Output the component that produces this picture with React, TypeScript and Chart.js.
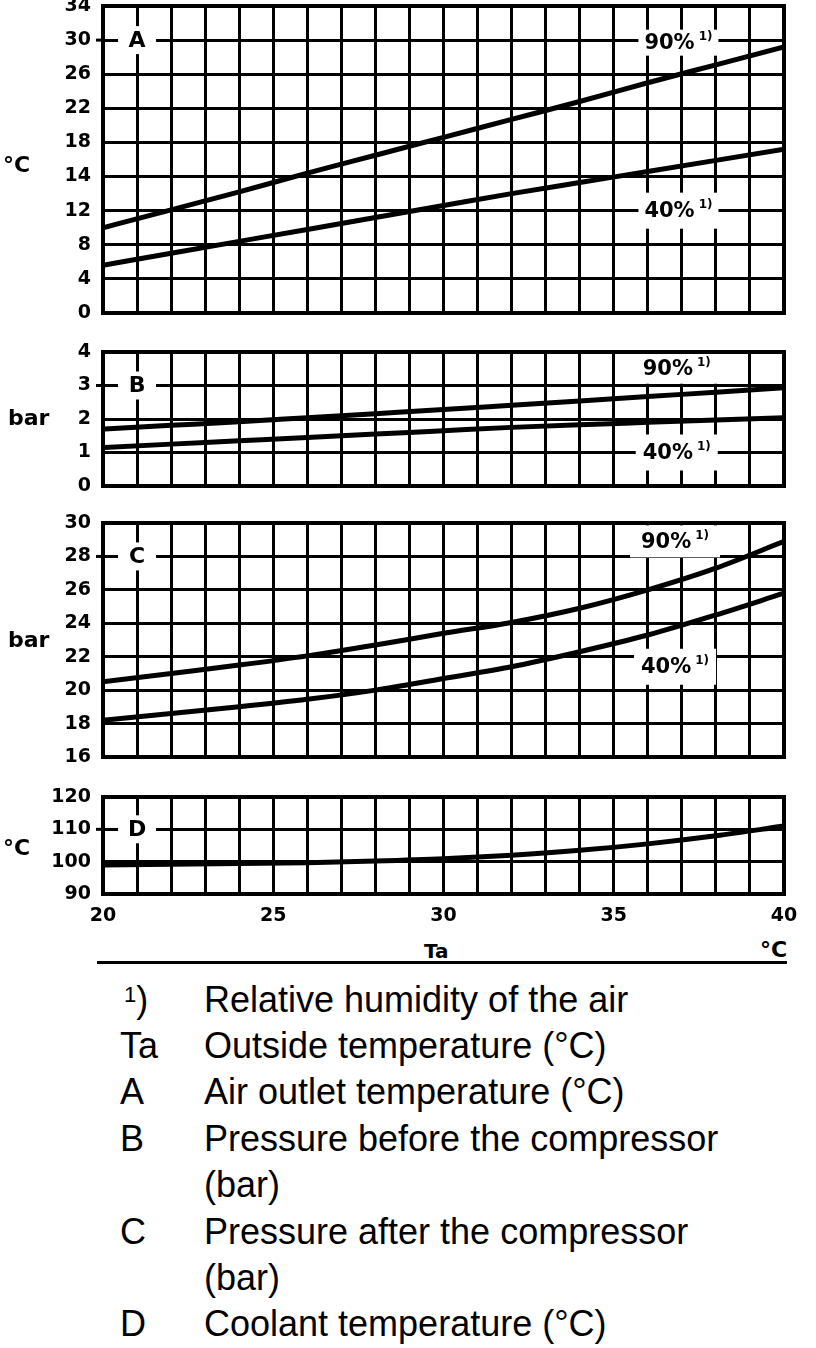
import React, { useEffect, useRef } from "react";
import { Chart, registerables } from "chart.js";

Chart.register(...registerables);

// ---------- data ----------
const TA = [20, 22, 24, 26, 28, 30, 32, 34, 36, 38, 40];
const X_TICK_LABELS = [20, 25, 30, 35, 40];

// A: air outlet temperature (grid rows of 4 units; printed labels below)
const A_90 = [10.0, 12.1, 14.2, 16.4, 18.5, 20.6, 22.7, 24.8, 27.0, 29.1, 31.2];
const A_40 = [5.6, 7.0, 8.4, 9.8, 11.2, 12.6, 14.0, 15.3, 16.6, 17.9, 19.2];
const A_TICKS = ["0", "4", "8", "12", "14", "18", "22", "26", "30", "34"];

// B: pressure before the compressor (bar)
const B_90 = [1.7, 1.81, 1.92, 2.04, 2.16, 2.28, 2.41, 2.54, 2.67, 2.8, 2.93];
const B_40 = [1.15, 1.25, 1.35, 1.45, 1.55, 1.65, 1.75, 1.83, 1.9, 1.97, 2.04];
const B_TICKS = ["0", "1", "2", "3", "4"];

// C: pressure after the compressor (bar)
const C_90 = [20.5, 21.0, 21.5, 22.05, 22.7, 23.4, 24.05, 24.9, 26.0, 27.3, 28.9];
const C_40 = [18.2, 18.6, 19.0, 19.45, 20.0, 20.7, 21.4, 22.3, 23.3, 24.5, 25.8];
const C_TICKS = ["16", "18", "20", "22", "24", "26", "28", "30"];

// D: coolant temperature (°C)
const D_COOLANT = [99.0, 99.2, 99.4, 99.7, 100.2, 100.9, 102.0, 103.5, 105.5, 108.0, 111.0];
const D_TICKS = ["90", "100", "110", "120"];

const LEGEND_KEYS = ["1)", "Ta", "A", "B", "", "C", "", "D"];
const LEGEND_TEXT = [
  "Relative humidity of the air",
  "Outside temperature (°C)",
  "Air outlet temperature (°C)",
  "Pressure before the compressor",
  "(bar)",
  "Pressure after the compressor",
  "(bar)",
  "Coolant temperature (°C)",
];

// ---------- layout ----------
const FONT = '"DejaVu Sans"';

type Note = { text: string; x: number; y: number; w: number; h: number };
type PanelDef = {
  id: string;
  top: number;
  height: number;
  padTop: number;
  padBottom: number;
  xHeight: number;
  showX: boolean;
  yMin: number;
  yMax: number;
  yStep: number;
  yTicks: string[];
  series: number[][];
  letter: { text: string; x: number; y: number };
  notes: Note[];
  unit: string;
  unitY: number;
};

const PANELS: PanelDef[] = [
  {
    id: "A", top: 0, height: 322, padTop: 6, padBottom: 9, xHeight: 0, showX: false,
    yMin: 0, yMax: 36, yStep: 4, yTicks: A_TICKS, series: [A_90, A_40],
    letter: { text: "A", x: 21, y: 32 },
    notes: [
      { text: "90%", x: 36.9, y: 31.7, w: 80, h: 26 },
      { text: "40%", x: 36.9, y: 12.0, w: 80, h: 36 },
    ],
    unit: "°C", unitY: 165,
  },
  {
    id: "B", top: 340, height: 156, padTop: 12, padBottom: 10, xHeight: 0, showX: false,
    yMin: 0, yMax: 4, yStep: 1, yTicks: B_TICKS, series: [B_90, B_40],
    letter: { text: "B", x: 21, y: 3 },
    notes: [
      { text: "90%", x: 36.85, y: 3.5, w: 90, h: 30 },
      { text: "40%", x: 36.85, y: 1.0, w: 82, h: 36 },
    ],
    unit: "bar", unitY: 418,
  },
  {
    id: "C", top: 510, height: 257, padTop: 13, padBottom: 10, xHeight: 0, showX: false,
    yMin: 16, yMax: 30, yStep: 2, yTicks: C_TICKS, series: [C_90, C_40],
    letter: { text: "C", x: 21, y: 28 },
    notes: [
      { text: "90%", x: 36.8, y: 28.9, w: 90, h: 32 },
      { text: "40%", x: 36.8, y: 21.4, w: 82, h: 36 },
    ],
    unit: "bar", unitY: 640,
  },
  {
    id: "D", top: 785, height: 150, padTop: 12, padBottom: 0, xHeight: 41, showX: true,
    yMin: 90, yMax: 120, yStep: 10, yTicks: D_TICKS, series: [D_COOLANT],
    letter: { text: "D", x: 21, y: 110 },
    notes: [],
    unit: "°C", unitY: 848,
  },
];

function PanelChart({ panel }: { panel: PanelDef }) {
  const ref = useRef<HTMLCanvasElement>(null);
  useEffect(() => {
    const canvas = ref.current;
    if (!canvas) return;
    const overlay = {
      id: "overlay" + panel.id,
      afterDatasetsDraw(chart: any) {
        const { ctx, chartArea } = chart;
        const xs = chart.scales.x;
        const ys = chart.scales.y;
        ctx.save();
        // panel letter
        {
          const cx = xs.getPixelForValue(panel.letter.x);
          const cy = ys.getPixelForValue(panel.letter.y);
          ctx.fillStyle = "#fff";
          ctx.fillRect(cx - 19, cy - 14, 38, 28);
          ctx.fillStyle = "#000";
          ctx.font = `bold 22px ${FONT}`;
          ctx.textAlign = "center";
          ctx.textBaseline = "middle";
          ctx.fillText(panel.letter.text, cx, cy + 1);
          // small tick dash left of the frame on the letter row
          ctx.strokeStyle = "#000";
          ctx.lineWidth = 3;
          ctx.beginPath();
          ctx.moveTo(chartArea.left - 7, cy);
          ctx.lineTo(chartArea.left, cy);
          ctx.stroke();
        }
        // humidity notes
        for (const n of panel.notes) {
          const cx = xs.getPixelForValue(n.x);
          const cy = ys.getPixelForValue(n.y);
          ctx.fillStyle = "#fff";
          ctx.fillRect(cx - n.w / 2, cy - n.h / 2, n.w, n.h);
          ctx.fillStyle = "#000";
          ctx.font = `bold 21px ${FONT}`;
          const mw = ctx.measureText(n.text).width;
          ctx.font = `bold 12px ${FONT}`;
          const sw = ctx.measureText("1)").width;
          const total = mw + 4 + sw;
          const x0 = cx - total / 2;
          ctx.textAlign = "left";
          ctx.textBaseline = "middle";
          ctx.font = `bold 21px ${FONT}`;
          ctx.fillText(n.text, x0, cy + 1);
          ctx.font = `bold 12px ${FONT}`;
          ctx.fillText("1)", x0 + mw + 4, cy - 6);
        }
        // frame
        ctx.strokeStyle = "#000";
        ctx.lineWidth = 4;
        ctx.strokeRect(chartArea.left, chartArea.top, chartArea.right - chartArea.left, chartArea.bottom - chartArea.top);
        ctx.restore();
      },
    };
    const tickFont = { family: FONT, size: 19, weight: "bold" as const };
    const chart = new Chart(canvas, {
      type: "line",
      data: {
        datasets: panel.series.map((s) => ({
          data: TA.map((t, i) => ({ x: t, y: s[i] })),
          borderColor: "#000",
          borderWidth: 5,
          pointRadius: 0,
          fill: false,
          cubicInterpolationMode: "monotone" as const,
        })),
      },
      options: {
        responsive: false,
        animation: false,
        devicePixelRatio: 1,
        layout: { padding: { left: 0, right: 32, top: panel.padTop, bottom: panel.padBottom } },
        plugins: { legend: { display: false }, tooltip: { enabled: false } },
        scales: {
          x: {
            type: "linear",
            min: 20,
            max: 40,
            ticks: {
              stepSize: 1,
              maxTicksLimit: 100,
              autoSkip: false,
              display: panel.showX,
              padding: 11,
              maxRotation: 0,
              color: "#000",
              font: tickFont,
              callback: (v: any) => (X_TICK_LABELS.includes(Number(v)) ? String(v) : ""),
            },
            grid: { color: "#000", lineWidth: 3, drawTicks: false },
            border: { display: false },
            afterFit: (s: any) => {
              s.height = panel.xHeight;
              s.paddingLeft = 0;
              s.paddingRight = 0;
            },
          },
          y: {
            type: "linear",
            min: panel.yMin,
            max: panel.yMax,
            ticks: {
              stepSize: panel.yStep,
              autoSkip: false,
              padding: 12,
              color: "#000",
              font: tickFont,
              callback: (_v: any, i: number) => panel.yTicks[i],
            },
            grid: { color: "#000", lineWidth: 3, drawTicks: false },
            border: { display: false },
            afterFit: (s: any) => {
              s.width = 103;
              s.paddingTop = 0;
              s.paddingBottom = 0;
            },
          },
        },
      },
      plugins: [overlay],
    });
    return () => chart.destroy();
  }, [panel]);
  return (
    <canvas
      ref={ref}
      width={816}
      height={panel.height}
      style={{ position: "absolute", left: 0, top: panel.top, width: 816, height: panel.height }}
    />
  );
}

const boldText = (size: number): React.CSSProperties => ({
  position: "absolute",
  fontFamily: FONT,
  fontWeight: "bold",
  fontSize: size,
  lineHeight: `${size}px`,
  whiteSpace: "nowrap",
  color: "#000",
});

export default function App() {
  const legendFont: React.CSSProperties = {
    position: "absolute",
    fontFamily: '"Liberation Sans", Arial, sans-serif',
    fontSize: 36,
    lineHeight: "36px",
    whiteSpace: "nowrap",
    color: "#000",
  };
  return (
    <div style={{ position: "absolute", left: 0, top: 0, width: 816, height: 1348, background: "#fff", overflow: "hidden" }}>
      {PANELS.map((p) => (
        <PanelChart key={p.id} panel={p} />
      ))}
      {PANELS.map((p) => (
        <div key={"u" + p.id} style={{ ...boldText(22), left: p.unit === "bar" ? 8 : 3, top: p.unitY - 11 }}>
          {p.unit}
        </div>
      ))}
      <div style={{ ...boldText(20), left: 424, top: 941 }}>Ta</div>
      <div style={{ ...boldText(22), left: 760, top: 939 }}>°C</div>
      <div style={{ position: "absolute", left: 97, top: 961, width: 690, height: 3, background: "#000" }} />
      {LEGEND_TEXT.map((t, i) => {
        const top = 1012 + i * 46.4 - 30.5;
        const key = LEGEND_KEYS[i];
        return (
          <React.Fragment key={i}>
            <div style={{ ...legendFont, left: 120, top }}>
              {key === "1)" ? (
                <span>
                  <span style={{ fontSize: 22, position: "relative", top: -10, marginLeft: 4 }}>1</span>)
                </span>
              ) : (
                key
              )}
            </div>
            <div style={{ ...legendFont, left: 204, top }}>{t}</div>
          </React.Fragment>
        );
      })}
    </div>
  );
}
